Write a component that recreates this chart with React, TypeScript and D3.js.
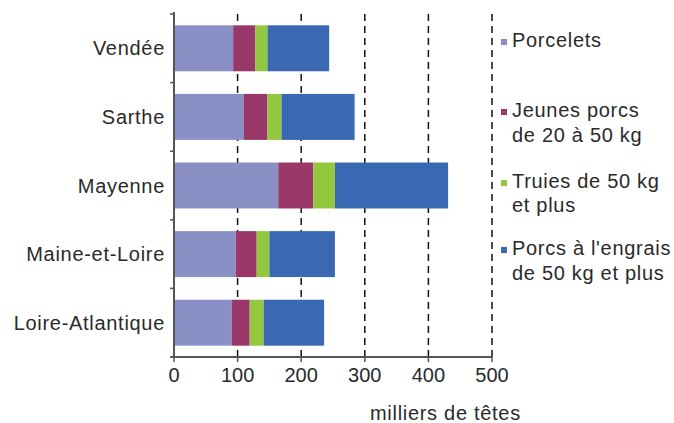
import React from "react";
import * as d3 from "d3";

const categories = ["Vendée", "Sarthe", "Mayenne", "Maine-et-Loire", "Loire-Atlantique"];
const seriesNames = ["Porcelets", "Jeunes porcs de 20 à 50 kg", "Truies de 50 kg et plus", "Porcs à l'engrais de 50 kg et plus"];
const legendLines = [["Porcelets"], ["Jeunes porcs", "de 20 à 50 kg"], ["Truies de 50 kg", "et plus"], ["Porcs à l'engrais", "de 50 kg et plus"]];
const porcelets = [93, 110, 164, 97, 91];
const jeunes = [35, 37, 55, 33, 28];
const truies = [19, 22, 34, 20, 22];
const engrais = [97, 115, 178, 103, 95];
const xTicks = [0, 100, 200, 300, 400, 500];
const colors = ["#8a8fc6", "#993768", "#92c83e", "#3a68b2"];

export default function App() {
  const W = 674, H = 423;
  const x = d3.scaleLinear().domain([0, 500]).range([174, 492]);
  const y = d3.scaleBand<string>().domain(categories).range([14, 357]).paddingInner(0.33).paddingOuter(0.165);
  const values = [porcelets, jeunes, truies, engrais];
  const table = categories.map((c, i) => {
    const o: any = { cat: c };
    seriesNames.forEach((s, j) => (o[s] = values[j][i]));
    return o;
  });
  const stacked = d3.stack<any>().keys(seriesNames)(table);
  const step = y.step();
  const font = "'Liberation Sans', Arial, sans-serif";
  const textColor = "#2a2a2a";
  const ls = 0.7;
  const legendY = [[47], [117, 142], [188, 212], [255, 280]];
  return (
    <svg width={W} height={H} style={{ position: "absolute", left: 0, top: 0 }} fontFamily={font}>
      <rect width={W} height={H} fill="#fff" />
      {xTicks.filter((t) => t > 0).map((t) => (
        <line key={t} x1={x(t)} x2={x(t)} y1={14} y2={357} stroke="#111" strokeWidth={1.5} strokeDasharray="7,5" />
      ))}
      {stacked.map((layer, j) =>
        layer.map((d, i) => (
          <rect key={j + "-" + i} x={x(d[0])} width={x(d[1]) - x(d[0])} y={y(categories[i])!} height={y.bandwidth()} fill={colors[j]} />
        ))
      )}
      <line x1={x(0)} x2={x(0)} y1={12} y2={357} stroke="#555" strokeWidth={2} />
      <line x1={171} x2={x(500)} y1={357} y2={357} stroke="#555" strokeWidth={2} />
      {d3.range(categories.length + 1).map((k) => (
        <line key={k} x1={170} x2={x(0)} y1={14 + k * step} y2={14 + k * step} stroke="#555" strokeWidth={1.5} />
      ))}
      {xTicks.map((t) => (
        <line key={"t" + t} x1={x(t)} x2={x(t)} y1={357} y2={362} stroke="#555" strokeWidth={1.5} />
      ))}
      {xTicks.map((t) => (
        <text key={"l" + t} x={x(t)} y={382} textAnchor="middle" fontSize={20} fill={textColor}>{t}</text>
      ))}
      {categories.map((c) => (
        <text key={c} x={165} y={y(c)! + y.bandwidth() / 2 + 7} textAnchor="end" fontSize={20} letterSpacing={ls} fill={textColor}>{c}</text>
      ))}
      <text x={370} y={420} fontSize={20} letterSpacing={ls} fill={textColor} style={{ whiteSpace: "pre" }}>{"milliers de têtes"}</text>
      {legendLines.map((lines, j) => (
        <g key={"lg" + j}>
          <rect x={501} y={legendY[j][0] - 8} width={6} height={6} fill={colors[j]} />
          {lines.map((ln, k) => (
            <text key={k} x={512} y={legendY[j][k]} fontSize={20} letterSpacing={ls} fill={textColor}>{ln}</text>
          ))}
        </g>
      ))}
    </svg>
  );
}
